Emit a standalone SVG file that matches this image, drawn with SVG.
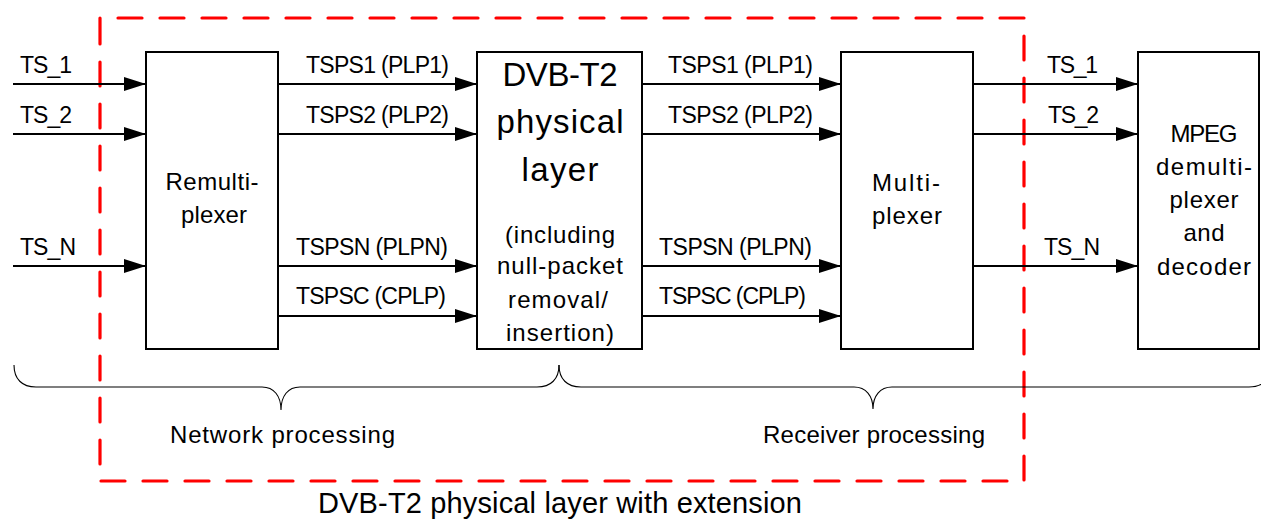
<svg xmlns="http://www.w3.org/2000/svg" width="1261" height="521" viewBox="0 0 1261 521">
<style>
text{font-family:"Liberation Sans",Arial,sans-serif;fill:#000}
.lb{font-size:23px}
.bx{font-size:24px;text-anchor:middle}
.box{fill:#fff;stroke:#000;stroke-width:2}
.ln{stroke:#000;stroke-width:1.8;fill:none;marker-end:url(#ah)}
.br{stroke:#000;stroke-width:1.1;fill:none}
</style>
<defs>
<marker id="ah" markerUnits="userSpaceOnUse" markerWidth="22" markerHeight="14" refX="22" refY="7" orient="auto">
<path d="M0,0 L22,7 L0,14 Z" fill="#000"/>
</marker>
</defs>
<rect width="1261" height="521" fill="#fff"/>
<g id="boundary">
<path d="M100,42 L100,18 L1024,18 L1024,481 L100,481 Z" fill="none" stroke="#f00" stroke-width="3.2" stroke-dasharray="24 18" stroke-linecap="round"/>
</g>
<g id="remux">
<rect class="box" x="146" y="52" width="132" height="297"/>
<text class="bx" x="212" y="190" textLength="93">Remulti-</text>
<text class="bx" x="214" y="223" textLength="66">plexer</text>
</g>
<g id="dvbt2">
<rect class="box" x="477" y="52" width="165" height="297"/>
<text class="bx" x="560" y="86" style="font-size:33px" textLength="115">DVB-T2</text>
<text class="bx" x="560" y="133" style="font-size:33px" textLength="127">physical</text>
<text class="bx" x="560" y="181" style="font-size:33px" textLength="77">layer</text>
<text class="bx" x="560" y="243" textLength="110">(including</text>
<text class="bx" x="560" y="274" textLength="126">null-packet</text>
<text class="bx" x="558" y="308" textLength="100">removal/</text>
<text class="bx" x="560" y="341" textLength="108">insertion)</text>
</g>
<g id="mux">
<rect class="box" x="841" y="52" width="132" height="297"/>
<text class="bx" x="906" y="191" textLength="68">Multi-</text>
<text class="bx" x="907" y="224" textLength="70">plexer</text>
</g>
<g id="mpeg">
<rect class="box" x="1138" y="52" width="121" height="297"/>
<text class="bx" x="1204" y="142" textLength="67">MPEG</text>
<text class="bx" x="1204" y="175" textLength="96">demulti-</text>
<text class="bx" x="1204" y="208" textLength="69">plexer</text>
<text class="bx" x="1204" y="241" textLength="41">and</text>
<text class="bx" x="1204" y="275" textLength="94">decoder</text>
</g>
<g id="connectors">
<line class="ln" x1="13" y1="84" x2="146" y2="84"/>
<line class="ln" x1="13" y1="134" x2="146" y2="134"/>
<line class="ln" x1="13" y1="266" x2="146" y2="266"/>
<line class="ln" x1="278" y1="84" x2="477" y2="84"/>
<line class="ln" x1="278" y1="134" x2="477" y2="134"/>
<line class="ln" x1="278" y1="266" x2="477" y2="266"/>
<line class="ln" x1="278" y1="316" x2="477" y2="316"/>
<line class="ln" x1="642" y1="84" x2="841" y2="84"/>
<line class="ln" x1="642" y1="134" x2="841" y2="134"/>
<line class="ln" x1="642" y1="266" x2="841" y2="266"/>
<line class="ln" x1="642" y1="316" x2="841" y2="316"/>
<line class="ln" x1="973" y1="84" x2="1138" y2="84"/>
<line class="ln" x1="973" y1="134" x2="1138" y2="134"/>
<line class="ln" x1="973" y1="266" x2="1138" y2="266"/>
<text class="lb" x="20" y="73" textLength="52">TS_1</text>
<text class="lb" x="20" y="123" textLength="52">TS_2</text>
<text class="lb" x="20" y="255" textLength="56">TS_N</text>
<text class="lb" x="306" y="73" textLength="143">TSPS1 (PLP1)</text>
<text class="lb" x="306" y="123" textLength="143">TSPS2 (PLP2)</text>
<text class="lb" x="296" y="255" textLength="152">TSPSN (PLPN)</text>
<text class="lb" x="296" y="304" textLength="150">TSPSC (CPLP)</text>
<text class="lb" x="668" y="73" textLength="145">TSPS1 (PLP1)</text>
<text class="lb" x="668" y="123" textLength="145">TSPS2 (PLP2)</text>
<text class="lb" x="659" y="255" textLength="153">TSPSN (PLPN)</text>
<text class="lb" x="659" y="304" textLength="147">TSPSC (CPLP)</text>
<text class="lb" x="1047" y="73" textLength="51">TS_1</text>
<text class="lb" x="1048" y="123" textLength="51">TS_2</text>
<text class="lb" x="1044" y="255" textLength="56">TS_N</text>
</g>
<g id="network-brace">
<path class="br" d="M14,365 C14,379 22,387 36,387 L262,387 C274,387 281,396 281,410 C281,396 288,387 300,387 L537,387 C551,387 559,379 559,365"/>
<text x="170" y="443" style="font-size:24px" textLength="225">Network processing</text>
</g>
<g id="receiver-brace">
<path class="br" d="M559,365 C559,379 567,387 581,387 L854,387 C866,387 873,396 873,409 C873,396 880,387 892,387 L1249,387 C1263,387 1271,379 1271,365"/>
<text x="763" y="443" style="font-size:24px" textLength="222">Receiver processing</text>
</g>
<g id="title">
<text x="318" y="513" style="font-size:29px" textLength="484">DVB-T2 physical layer with extension</text>
</g>
</svg>
